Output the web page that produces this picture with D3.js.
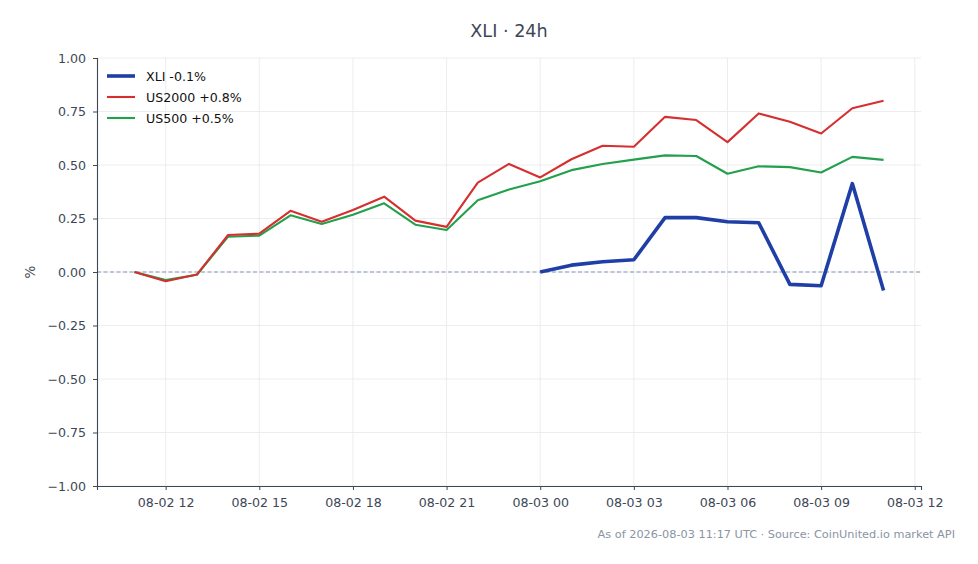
<!DOCTYPE html>
<html>
<head>
<meta charset="utf-8">
<script src="https://cdn.jsdelivr.net/npm/d3@7"></script>
<style>
  body { margin: 0; background: #fff; }
  svg { font-family: "DejaVu Sans", sans-serif; }
</style>
</head>
<body>
<svg id="chart" width="978" height="564"></svg>
<script>
// hourly points, 08-02 11:00 .. 08-03 11:00 UTC
const hours = d3.range(25).map(i => new Date(Date.UTC(2026, 7, 2, 11 + i)));

const us2000 = [0, -0.043, -0.012, 0.173, 0.179, 0.286, 0.235, 0.29, 0.352, 0.24, 0.211,
  0.418, 0.505, 0.442, 0.527, 0.59, 0.585, 0.725, 0.71, 0.607, 0.741, 0.702, 0.647, 0.765, 0.80];
const us500 = [0, -0.038, -0.013, 0.165, 0.17, 0.265, 0.224, 0.268, 0.321, 0.221, 0.196,
  0.335, 0.385, 0.424, 0.476, 0.505, 0.525, 0.545, 0.542, 0.459, 0.494, 0.49, 0.465, 0.538, 0.524];
// XLI only trades from 08-03 00:00
const xli = [null, null, null, null, null, null, null, null, null, null, null, null, null,
  0, 0.032, 0.048, 0.057, 0.254, 0.254, 0.235, 0.23, -0.058, -0.064, 0.413, -0.086];

const seriesNames = ["XLI -0.1%", "US2000 +0.8%", "US500 +0.5%"];
const seriesColors = ["#1f3fa6", "#d62f2f", "#22a04b"];
const seriesWidths = [3.6, 2.1, 2.1];
const yTicks = [-1, -0.75, -0.5, -0.25, 0, 0.25, 0.5, 0.75, 1];

const margin = {left: 97, right: 57, top: 58, bottom: 78};
const W = 978, H = 564;
const svg = d3.select("#chart");

const x = d3.scaleUtc()
  .domain([new Date(Date.UTC(2026, 7, 2, 9, 48)), new Date(Date.UTC(2026, 7, 3, 12, 12))])
  .range([margin.left, W - margin.right]);
const y = d3.scaleLinear().domain([-1, 1]).range([H - margin.bottom, margin.top]);

const xTicks = d3.range(9).map(i => new Date(Date.UTC(2026, 7, 2, 12 + 3 * i)));
const fmt = d3.utcFormat("%m-%d %H");

// grid
const grid = svg.append("g").attr("stroke", "#e6e9ee").attr("stroke-width", 0.8);
grid.selectAll("line.v").data(xTicks).enter().append("line")
  .attr("x1", d => x(d)).attr("x2", d => x(d))
  .attr("y1", y(1)).attr("y2", y(-1));
grid.selectAll("line.h").data(yTicks).enter().append("line")
  .attr("x1", x.range()[0]).attr("x2", x.range()[1])
  .attr("y1", d => y(d)).attr("y2", d => y(d));

// zero line
svg.append("line")
  .attr("x1", x.range()[0]).attr("x2", x.range()[1])
  .attr("y1", y(0)).attr("y2", y(0))
  .attr("stroke", "#8595b5").attr("stroke-width", 1.1)
  .attr("stroke-dasharray", "4,2.5");

// axes
const xAxis = svg.append("g")
  .attr("transform", `translate(0,${y(-1)})`)
  .call(d3.axisBottom(x).tickValues(xTicks).tickFormat(fmt).tickSize(4).tickPadding(8));
const yAxis = svg.append("g")
  .attr("transform", `translate(${margin.left},0)`)
  .call(d3.axisLeft(y).tickValues(yTicks).tickFormat(d => d3.format(".2f")(d).replace("-", "\u2212"))
    .tickSize(4).tickPadding(7));
[xAxis, yAxis].forEach(a => {
  a.select(".domain").attr("stroke", "#3d4756").attr("stroke-width", 1.1);
  a.selectAll(".tick line").attr("stroke", "#3d4756");
  a.selectAll(".tick text").attr("fill", "#3d4756").style("font-size", "12.6px")
    .style("font-family", "DejaVu Sans, sans-serif");
});

// lines
const allSeries = [xli, us2000, us500];
const line = d3.line()
  .defined(d => d != null)
  .x((d, i) => x(hours[i]))
  .y(d => y(d));
// draw green, red, then blue on top
[2, 1, 0].forEach(k => {
  svg.append("path")
    .datum(allSeries[k])
    .attr("fill", "none")
    .attr("stroke", seriesColors[k])
    .attr("stroke-width", seriesWidths[k])
    .attr("stroke-linejoin", "round")
    .attr("d", line);
});

// legend
const legend = svg.append("g").attr("transform", "translate(107,76)");
seriesNames.forEach((name, k) => {
  const g = legend.append("g").attr("transform", `translate(0,${k * 21})`);
  g.append("line").attr("x1", 0).attr("x2", 28)
    .attr("stroke", seriesColors[k]).attr("stroke-width", seriesWidths[k]);
  g.append("text").attr("x", 39).attr("y", 4.5)
    .style("font-size", "12.6px").attr("fill", "#111").text(name);
});

// title, labels
svg.append("text").attr("x", 509).attr("y", 37).attr("text-anchor", "middle")
  .style("font-size", "17.6px").attr("fill", "#3d4756").text("XLI · 24h");
svg.append("text").attr("transform", "translate(35,272) rotate(-90)")
  .attr("text-anchor", "middle").style("font-size", "13.5px").attr("fill", "#3d4756").text("%");
svg.append("text").attr("x", 955).attr("y", 538).attr("text-anchor", "end")
  .style("font-size", "11.3px").attr("fill", "#8a94a3")
  .text("As of 2026-08-03 11:17 UTC · Source: CoinUnited.io market API");
</script>
</body>
</html>
